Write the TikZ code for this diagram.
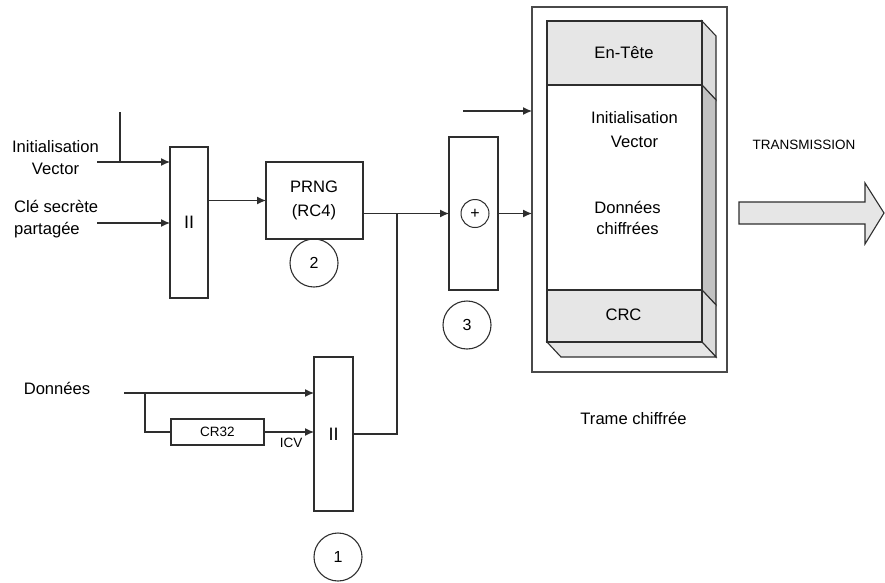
\documentclass[tikz,border=0pt]{standalone}
\usepackage{fontspec}
\setmainfont{Liberation Sans}
\usetikzlibrary{arrows.meta}
\definecolor{linec}{HTML}{2E2E2E}
\definecolor{framec}{HTML}{4A4A4A}
\definecolor{shadelight}{HTML}{E6E6E6}
\definecolor{shadeside}{HTML}{DCDCDC}
\definecolor{shadedark}{HTML}{C2C2C2}
\begin{document}
\begin{tikzpicture}[x=1pt,y=-1pt,
  ln/.style={draw=linec, line width=1.2pt},
  arr/.style={ln, -{Latex[length=9pt,width=8pt]}},
  blk/.style={draw=linec, line width=1.2pt, inner sep=0pt, outer sep=0pt, fill=white},
  lbl/.style={font=\fontsize{16.6}{22}\selectfont, align=center, inner sep=0pt},
  sml/.style={font=\fontsize{13.5}{16}\selectfont, inner sep=0pt},
  num/.style={circle, draw=linec, line width=1.1pt, minimum size=48pt, inner sep=0pt,
              font=\fontsize{16}{18}\selectfont},
  bar/.style={font=\fontsize{18}{20}\selectfont}
]
\useasboundingbox (0,0) rectangle (885,582);

% ---------- key scheduling part ----------
\node[blk, minimum width=38pt, minimum height=151pt, bar] (concatA) at (189,222.5) {II};
\node[blk, minimum width=97pt, minimum height=77pt] (prng) at (314.5,200.5) {};
\node[lbl, font=\fontsize{16.6}{24}\selectfont] (prngtxt) at (314,200) {PRNG\\(RC4)};
\node[num] (c2) at (314,263) {2};

\node[lbl] (ivlbl) at (55.5,158) {Initialisation\\Vector};
\node[lbl, align=left, anchor=west] (keylbl) at (14,219) {Clé secrète\\partagée};

\coordinate (ivs) at (97,162);
\coordinate (ivtop) at (120,112);
\coordinate (ks) at (97,223);
\draw[ln] (ivtop) -- (ivtop |- ivs);
\draw[arr] (ivs) -- (ivs -| concatA.west);
\draw[arr] (ks) -- (ks -| concatA.west);
\draw[arr] (concatA.east |- prng.west) -- (prng.west);

% ---------- XOR ----------
\node[blk, minimum width=49pt, minimum height=153pt] (xor) at (473.5,213.5) {};
\node[circle, draw=linec, line width=1pt, minimum size=28pt, inner sep=0pt,
      font=\fontsize{16}{16}\selectfont] (xorsym) at (475,213.5) {+};
\node[num] (c3) at (467,325) {3};

% ---------- integrity part ----------
\node[blk, minimum width=39pt, minimum height=154pt, bar] (concatB) at (333.5,434) {II};
\node[num] (c1) at (338,557) {1};
\node[blk, minimum width=93pt, minimum height=26pt, sml] (crc32) at (217.5,432) {CR32};
\node[lbl] (datalbl) at (57,388) {Données};
\node[sml] (icv) at (291,443) {ICV};

\coordinate (ds) at (124,393);
\coordinate (br) at (145,393);
\draw[arr] (ds) -- (ds -| concatB.west);
\draw[ln] (br) |- (crc32.west);
\draw[arr] (crc32.east) -- (crc32.east -| concatB.west);

% keystream and ICV merge before the XOR
\coordinate (j) at (397,213.5);
\draw[arr] (prng.east |- xor.west) -- (xor.west);
\draw[ln] (concatB.east) -- (concatB.east -| j) -- (j);

% ---------- encrypted frame ----------
\node[draw=framec, line width=1.1pt, minimum width=195pt, minimum height=365pt,
      inner sep=0pt, outer sep=0pt] (frame) at (629.5,189.5) {};

% 3D block: front face 547..702 x 21..342, depth (14,15)
\fill[shadelight] (547,21) rectangle (702,85);
\fill[shadelight] (547,290) rectangle (702,342);
\filldraw[fill=shadeside, draw=linec, line width=1.1pt] (702,21) -- (716,36) -- (716,100) -- (702,85) -- cycle;
\filldraw[fill=shadedark, draw=linec, line width=1.1pt] (702,85) -- (716,100) -- (716,305) -- (702,290) -- cycle;
\filldraw[fill=shadeside, draw=linec, line width=1.1pt] (702,290) -- (716,305) -- (716,357) -- (702,342) -- cycle;
\filldraw[fill=shadelight, draw=linec, line width=1.1pt] (547,342) -- (702,342) -- (716,357) -- (561,357) -- cycle;
\draw[ln] (547,21) rectangle (702,342);
\draw[ln] (547,85) -- (702,85);
\draw[ln] (547,290) -- (702,290);

\node[lbl] (hdr) at (624,53) {En-Tête};
\node[lbl, font=\fontsize{16.6}{24}\selectfont] (ivf) at (634.5,130) {Initialisation\\Vector};
\node[lbl, font=\fontsize{16.6}{21}\selectfont] (dataf) at (627.5,217.5) {Données\\chiffrées};
\node[lbl] (crcf) at (623.5,315) {CRC};
\node[lbl] (tramelbl) at (633.5,418) {Trame chiffrée};

\coordinate (topin) at (463,111);
\draw[arr] (topin) -- (topin -| frame.west);
\draw[arr] (xor.east) -- (xor.east -| frame.west);

% ---------- transmission ----------
\node[sml] (txlbl) at (804,145) {TRANSMISSION};
\filldraw[fill=shadelight, draw=linec, line width=1.1pt]
  (739,202) -- (865,202) -- (865,183) -- (884,213) -- (865,244) -- (865,224) -- (739,224) -- cycle;
\end{tikzpicture}
\end{document}
